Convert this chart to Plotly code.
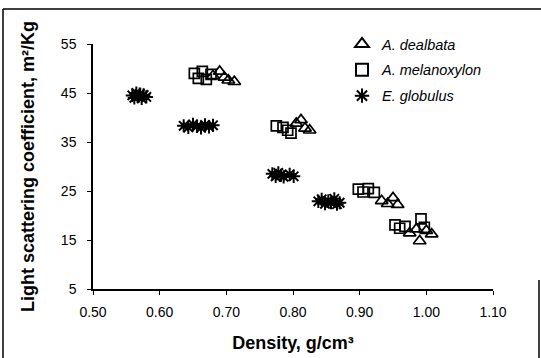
import plotly.graph_objects as go

# ---- data ----
dealbata_x = [0.680, 0.690, 0.697, 0.703, 0.712, 0.805, 0.812, 0.818, 0.825,
              0.933, 0.942, 0.950, 0.957, 0.975, 0.985, 0.990, 1.000, 1.008]
dealbata_y = [48.5, 49.4, 48.2, 47.6, 47.3, 38.8, 39.5, 37.8, 37.4,
              23.0, 22.4, 23.6, 22.2, 16.4, 17.2, 14.8, 16.9, 16.2]

melanoxylon_x = [0.652, 0.658, 0.664, 0.670, 0.677, 0.775, 0.785, 0.792, 0.797,
                 0.898, 0.905, 0.913, 0.922, 0.953, 0.960, 0.968, 0.992, 0.997]
melanoxylon_y = [49.0, 48.0, 49.4, 47.8, 48.8, 38.3, 38.0, 37.4, 36.8,
                 25.4, 24.8, 25.5, 24.7, 18.1, 17.4, 17.8, 19.3, 17.6]

globulus_x = [0.559, 0.562, 0.565, 0.568, 0.570, 0.573, 0.576, 0.580,
              0.636, 0.643, 0.650, 0.656, 0.662, 0.668, 0.674, 0.680,
              0.769, 0.774, 0.778, 0.782, 0.786, 0.795, 0.801,
              0.838, 0.843, 0.848, 0.853, 0.857, 0.862, 0.866, 0.870]
globulus_y = [44.5, 44.0, 45.0, 44.3, 44.8, 43.9, 44.6, 44.2,
              38.3, 38.0, 38.6, 38.2, 37.9, 38.5, 38.1, 38.4,
              28.5, 28.0, 28.7, 28.2, 27.9, 28.4, 28.0,
              22.9, 23.3, 22.4, 23.0, 22.6, 23.4, 22.3, 22.6]

x_ticks = [0.50, 0.60, 0.70, 0.80, 0.90, 1.00, 1.10]
x_tick_labels = ["0.50", "0.60", "0.70", "0.80", "0.90", "1.00", "1.10"]
y_ticks = [5, 15, 25, 35, 45, 55]

names = ["<i>A. dealbata</i>", "<i>A. melanoxylon</i>", "<i>E. globulus</i>"]

fig = go.Figure()
fig.add_trace(go.Scatter(
    x=dealbata_x, y=dealbata_y, mode="markers", name=names[0], legendgroup="a",
    marker=dict(symbol="triangle-up-open", size=11, color="black",
                line=dict(width=1.7, color="black"))))
fig.add_trace(go.Scatter(
    x=melanoxylon_x, y=melanoxylon_y, mode="markers", name=names[1], legendgroup="b",
    marker=dict(symbol="square-open", size=10, color="black",
                line=dict(width=1.7, color="black"))))
fig.add_trace(go.Scatter(
    x=globulus_x, y=globulus_y, mode="markers", name=names[2], legendgroup="c",
    marker=dict(symbol="asterisk-open", size=11, color="black",
                line=dict(width=2, color="black"))))

font_family = "Liberation Sans, Arial, sans-serif"
tick_font = dict(family=font_family, size=14, color="black")

W, H = 541, 358
L, R, T, B = 93, 48, 44, 69
pw, ph = W - L - R, H - T - B


def px(xp):
    return (xp - L) / pw


def py(yp):
    return (H - B - yp) / ph


frame = dict(color="black", width=1.5)
fig.update_layout(
    width=W, height=H,
    margin=dict(l=L, r=R, t=T, b=B, autoexpand=False),
    paper_bgcolor="white", plot_bgcolor="white",
    font=dict(family=font_family, size=12, color="black"),
    showlegend=True,
    legend=dict(x=342 / W, y=1 - 28 / H, xref="container", yref="container",
                xanchor="left", yanchor="top", itemwidth=30,
                bgcolor="rgba(0,0,0,0)", font=dict(size=14.5, color="black"),
                itemsizing="constant", traceorder="grouped", tracegroupgap=4),
    xaxis=dict(range=[0.50, 1.10], tickvals=x_ticks, ticktext=x_tick_labels,
               automargin=False, ticklabelstandoff=5,
               showgrid=False, zeroline=False, showline=True, linecolor="black",
               linewidth=1.5, ticks="outside", ticklen=4, tickcolor="black",
               tickfont=tick_font,
               title=dict(text="<b>Density, g/cm³</b>",
                          font=dict(size=18, color="black"), standoff=18)),
    yaxis=dict(range=[5, 55], tickvals=y_ticks, automargin=False,
               ticklabelstandoff=8,
               showgrid=False, zeroline=False, showline=True, linecolor="black",
               linewidth=1.5, ticks="outside", ticklen=4, tickcolor="black",
               tickfont=tick_font,
               title=dict(text="<b>Light scattering coefficient, m²/Kg</b>",
                          font=dict(size=18, color="black"), standoff=22)),
    shapes=[
        dict(type="line", xref="paper", yref="paper",
             x0=px(3), x1=px(541), y0=py(9), y1=py(9), line=frame),
        dict(type="line", xref="paper", yref="paper",
             x0=px(3), x1=px(3), y0=py(9), y1=py(358), line=frame),
        dict(type="line", xref="paper", yref="paper",
             x0=px(539), x1=px(539), y0=py(280), y1=py(358), line=frame),
    ],
)

fig.write_html("out.html", config={"displayModeBar": False},
               post_script="document.body.style.margin='0';")
